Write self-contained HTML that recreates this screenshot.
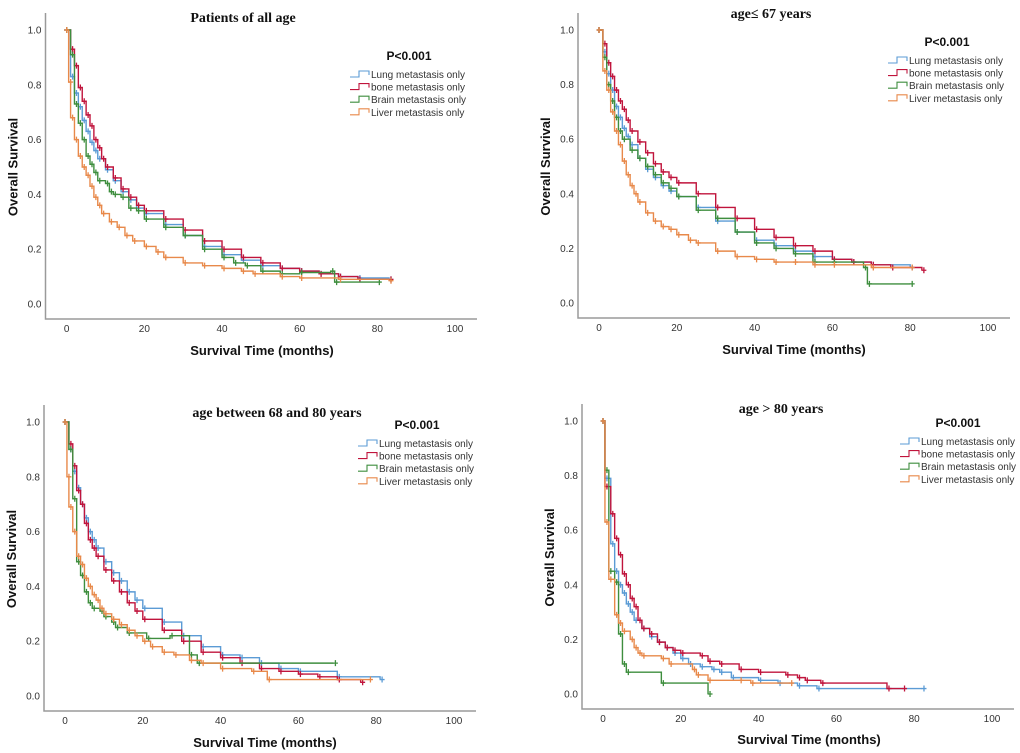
<!DOCTYPE html>
<html><head><meta charset="utf-8"><style>
html,body{margin:0;padding:0;background:#fff;width:1020px;height:753px;overflow:hidden}
svg{display:block}
text{font-family:"Liberation Sans",sans-serif}
</style></head><body>
<svg id="chart" width="1020" height="753" viewBox="0 0 1020 753" xmlns="http://www.w3.org/2000/svg"></svg>
<script>
// ---- data ----
const seriesNames = ["Lung metastasis only","bone metastasis only","Brain metastasis only","Liver metastasis only"];
const seriesKeys = ["lung","bone","brain","liver"];
const panelTitles = ["Patients of all age","age\u2264 67 years","age between 68 and 80 years","age > 80 years"];
const pValueLabel = "P<0.001";
const xTicks = [0,20,40,60,80,100];
const yTicks = [0.0,0.2,0.4,0.6,0.8,1.0];

// panel 1: all ages
const p1LungT = [0,1,2,3,4,5,6,7,8,10,12,14,16,18,20,25,30,35,40,45,50,55,60,65,70,75,83];
const p1LungS = [1,0.83,0.77,0.72,0.67,0.63,0.59,0.56,0.53,0.49,0.45,0.41,0.38,0.35,0.33,0.29,0.25,0.21,0.18,0.16,0.14,0.13,0.12,0.11,0.10,0.095,0.09];
const p1BoneT = [0,1,2,3,4,5,6,7,8,9,10,12,14,16,18,20,25,30,35,40,45,50,55,60,65,70,75,83];
const p1BoneS = [1,0.93,0.87,0.79,0.74,0.69,0.65,0.60,0.57,0.53,0.50,0.46,0.42,0.39,0.36,0.34,0.31,0.27,0.23,0.20,0.17,0.15,0.13,0.12,0.11,0.10,0.09,0.09];
const p1BrainT = [0,1,2,3,4,5,6,7,8,10,11,12,14,16,18,20,25,30,35,40,43,46,50,55,60,68,69,80];
const p1BrainS = [1,0.91,0.73,0.66,0.60,0.54,0.51,0.48,0.45,0.44,0.41,0.40,0.39,0.35,0.34,0.31,0.28,0.25,0.20,0.17,0.15,0.14,0.12,0.11,0.115,0.12,0.08,0.08];
const p1LiverT = [0,0.5,1,2,3,4,5,6,7,8,9,11,13,15,17,20,23,25,30,35,40,45,48,55,60,70,83];
const p1LiverS = [1,0.81,0.68,0.60,0.54,0.50,0.47,0.43,0.39,0.36,0.33,0.30,0.28,0.25,0.23,0.21,0.19,0.17,0.15,0.14,0.13,0.12,0.11,0.10,0.095,0.09,0.085];

// panel 2: age <= 67
const p2LungT = [0,1,2,3,4,5,6,7,8,10,12,14,16,18,20,25,30,35,40,45,50,55,60,65,70,80];
const p2LungS = [1,0.92,0.84,0.78,0.72,0.68,0.64,0.61,0.58,0.53,0.49,0.46,0.43,0.41,0.39,0.35,0.30,0.26,0.23,0.21,0.19,0.17,0.16,0.15,0.14,0.13];
const p2BoneT = [0,1,2,3,4,5,6,7,8,10,12,14,16,18,20,25,30,35,40,45,50,55,60,65,70,75,83];
const p2BoneS = [1,0.95,0.88,0.83,0.78,0.74,0.71,0.67,0.63,0.59,0.55,0.51,0.48,0.46,0.44,0.40,0.35,0.31,0.27,0.24,0.21,0.19,0.16,0.15,0.14,0.13,0.12];
const p2BrainT = [0,1,2,3,4,5,6,8,10,12,14,16,18,20,25,30,35,40,45,50,55,60,68,69,80];
const p2BrainS = [1,0.90,0.80,0.74,0.68,0.63,0.60,0.56,0.53,0.50,0.47,0.44,0.42,0.39,0.34,0.31,0.26,0.22,0.20,0.18,0.15,0.15,0.13,0.07,0.07];
const p2LiverT = [0,1,2,3,4,5,6,7,8,9,10,12,14,16,18,20,23,25,30,35,40,45,50,55,60,70,80];
const p2LiverS = [1,0.85,0.78,0.70,0.63,0.58,0.52,0.47,0.43,0.40,0.37,0.33,0.30,0.28,0.27,0.25,0.23,0.22,0.19,0.17,0.16,0.15,0.15,0.14,0.14,0.13,0.13];

// panel 3: age 68-80
const p3LungT = [0,1,2,3,4,5,6,7,8,10,12,14,16,18,20,25,30,35,40,45,50,55,60,70,81];
const p3LungS = [1,0.90,0.82,0.76,0.70,0.65,0.60,0.57,0.54,0.49,0.45,0.42,0.38,0.35,0.32,0.27,0.22,0.18,0.15,0.14,0.12,0.10,0.09,0.07,0.06];
const p3BoneT = [0,1,2,3,4,5,6,7,8,10,12,14,16,18,20,25,30,35,40,45,50,55,60,65,70,76];
const p3BoneS = [1,0.92,0.84,0.75,0.70,0.63,0.57,0.54,0.51,0.46,0.42,0.38,0.34,0.31,0.28,0.24,0.20,0.16,0.14,0.12,0.10,0.09,0.08,0.07,0.06,0.05];
const p3BrainT = [0,1,2,3,4,5,6,7,9,10,12,13,16,21,27,32,34,69];
const p3BrainS = [1,0.90,0.72,0.49,0.44,0.38,0.34,0.32,0.31,0.29,0.27,0.25,0.23,0.21,0.22,0.15,0.12,0.12];
const p3LiverT = [0,0.5,1,2,3,4,5,6,7,8,9,10,12,14,16,18,20,22,25,28,32,35,40,48,52,78];
const p3LiverS = [1,0.80,0.69,0.60,0.51,0.48,0.43,0.40,0.37,0.35,0.32,0.30,0.28,0.26,0.24,0.22,0.20,0.18,0.16,0.15,0.13,0.12,0.10,0.09,0.06,0.06];

// panel 4: age > 80
const p4LungT = [0,0.5,2,3,4,5,6,7,8,10,12,14,16,18,20,22,25,28,30,33,40,45,50,55,82];
const p4LungS = [1,0.79,0.55,0.45,0.40,0.37,0.33,0.30,0.27,0.24,0.21,0.19,0.17,0.15,0.13,0.11,0.10,0.09,0.08,0.06,0.05,0.04,0.03,0.02,0.02];
const p4BoneT = [0,0.5,2,3,4,5,6,7,8,9,10,12,14,16,18,20,25,27,30,35,40,47,50,52,56,73,77];
const p4BoneS = [1,0.76,0.66,0.57,0.51,0.44,0.40,0.35,0.32,0.27,0.24,0.22,0.19,0.17,0.16,0.15,0.14,0.12,0.11,0.09,0.08,0.07,0.06,0.05,0.04,0.02,0.02];
const p4BrainT = [0,0.5,1.5,3,4,5,6,15,27];
const p4BrainS = [1,0.82,0.45,0.41,0.22,0.11,0.08,0.04,0.0];
const p4LiverT = [0,0.5,1.5,3,4,5,7,8,9,10,15,17,23,24,27,35,38,48];
const p4LiverS = [1,0.63,0.42,0.29,0.26,0.23,0.20,0.17,0.15,0.14,0.13,0.11,0.09,0.07,0.05,0.05,0.04,0.04];

const panelData = [
  [[p1LungT,p1LungS],[p1BoneT,p1BoneS],[p1BrainT,p1BrainS],[p1LiverT,p1LiverS]],
  [[p2LungT,p2LungS],[p2BoneT,p2BoneS],[p2BrainT,p2BrainS],[p2LiverT,p2LiverS]],
  [[p3LungT,p3LungS],[p3BoneT,p3BoneS],[p3BrainT,p3BrainS],[p3LiverT,p3LiverS]],
  [[p4LungT,p4LungS],[p4BoneT,p4BoneS],[p4BrainT,p4BrainS],[p4LiverT,p4LiverS]]
];

// ---- styling / layout ----
const colors = ["#5b9bd5","#c0143c","#3e8e3e","#e8894a"];
const layouts = [
  {x0:66.7,x100:455,y0:304,y1:30,left:45.5,bottom:319,right:477,top:13,tx:243,ty:22,px:409,py:60,lx:350,ly:74,xtx:262,xty:355},
  {x0:599,x100:988,y0:303,y1:30,left:578,bottom:318,right:1010,top:13,tx:771,ty:18,px:947,py:46,lx:888,ly:60,xtx:794,xty:354},
  {x0:65,x100:454,y0:696,y1:422,left:44,bottom:711,right:476,top:405,tx:277,ty:417,px:417,py:429,lx:358,ly:443,xtx:265,xty:747},
  {x0:603,x100:992,y0:694,y1:421,left:582,bottom:709,right:1014,top:404,tx:781,ty:413,px:958,py:427,lx:900,ly:441,xtx:809,xty:744}
];
const NS = "http://www.w3.org/2000/svg";
const svg = document.getElementById("chart");
function mk(tag, attrs, parent){
  const e = document.createElementNS(NS, tag);
  for (const k in attrs) e.setAttribute(k, attrs[k]);
  parent.appendChild(e);
  return e;
}
panelData.forEach((pd, pi) => {
  const L = layouts[pi];
  const xs = v => L.x0 + (L.x100 - L.x0) * v / 100;
  const ys = v => L.y0 - (L.y0 - L.y1) * v;
  const g = mk("g", {}, svg);
  
  
  const ax = mk("path", {d:`M${L.left},${L.top} V${L.bottom} H${L.right}`, fill:"none", stroke:"#9a9a9a", "stroke-width":1.5}, g);
  
  
  yTicks.forEach(t => {
    const tx = mk("text", {x:L.left-4, y:ys(t)+3.5, "font-size":10, fill:"#333", "text-anchor":"end"}, g);
    tx.textContent = t.toFixed(1);
    
    
  });
  xTicks.forEach(t => {
    const tx = mk("text", {x:xs(t), y:L.bottom+13, "font-size":10, fill:"#333", "text-anchor":"middle"}, g);
    tx.textContent = t;
    
    
  });
  const yt = mk("text", {x:0, y:0, "font-size":13, "font-weight":"bold", fill:"#111", "text-anchor":"middle",
    transform:`translate(${L.left-28},${(L.y0+L.y1)/2}) rotate(-90)`}, g);
  yt.textContent = "Overall Survival";
  
  
  const xt = mk("text", {x:L.xtx, y:L.xty, "font-size":13, "font-weight":"bold", fill:"#111", "text-anchor":"middle"}, g);
  xt.textContent = "Survival Time (months)";
  
  
  const tt = mk("text", {x:L.tx, y:L.ty, "font-size":14, "font-weight":"bold", fill:"#111", "text-anchor":"middle", style:'font-family:"Liberation Serif",serif'}, g);
  tt.textContent = panelTitles[pi];
  
  
  const pv = mk("text", {x:L.px, y:L.py, "font-size":12, "font-weight":"bold", fill:"#111", "text-anchor":"middle"}, g);
  pv.textContent = pValueLabel;
  
  
  pd.forEach((s, si) => {
    const T = s[0], S = s[1];
    let d = `M${xs(T[0])},${ys(S[0])}`;
    for (let i = 1; i < T.length; i++) {
      d += ` H${xs(T[i])} V${ys(S[i])}`;
    }
    const p = mk("path", {d, fill:"none", stroke:colors[si], "stroke-width":1.4}, g);
    
    
    let cd = "";
    for (let i = 0; i < T.length; i++) {
      const cx = xs(T[i]) + (i>0 ? 2 : 0), cy = ys(S[i]);
      cd += `M${cx-2.5},${cy} h5 M${cx},${cy-3} v6 `;
    }
    const c = mk("path", {d:cd, fill:"none", stroke:colors[si], "stroke-width":1.3}, g);
    
    
  });
  seriesNames.forEach((nm, si) => {
    const y = L.ly + si * 12.6;
    const lg = mk("path", {d:`M${L.lx},${y+3} H${L.lx+9} V${y-3} H${L.lx+19} V${y+1}`, fill:"none", stroke:colors[si], "stroke-width":1.1}, g);
    
    
    const lt = mk("text", {x:L.lx+21, y:y+4, "font-size":10, fill:"#333"}, g);
    lt.textContent = nm;
    
    
  });
});
</script>
</body></html>
